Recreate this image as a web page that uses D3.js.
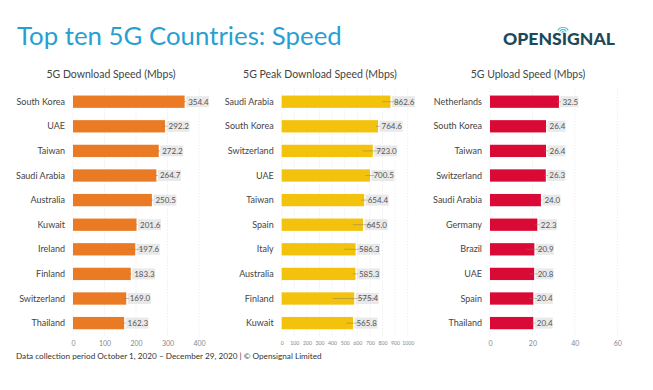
<!DOCTYPE html>
<html><head><meta charset="utf-8">
<script src="https://cdn.jsdelivr.net/npm/d3@7"></script>
<style>body{margin:0;background:#fff;}svg{display:block;font-family:Lato,"Open Sans",sans-serif;}</style>
</head><body>
<svg id="c" width="653" height="390"></svg>
<script>
// ---- data ----
const dlCountries = ["South Korea","UAE","Taiwan","Saudi Arabia","Australia","Kuwait","Ireland","Finland","Switzerland","Thailand"];
const dlValues = [354.4,292.2,272.2,264.7,250.5,201.6,197.6,183.3,169.0,162.3];
const dlErr = [4,8,4,5,5,3,25,3,10,5];
const dlTicks = [0,100,200,300,400];

const pkCountries = ["Saudi Arabia","South Korea","Switzerland","UAE","Taiwan","Spain","Italy","Australia","Finland","Kuwait"];
const pkValues = [862.6,764.6,723.0,700.5,654.4,645.0,586.3,585.3,575.4,565.8];
const pkErr = [65,15,80,35,25,80,90,20,170,55];
const pkTicks = [0,100,200,300,400,500,600,700,800,900,1000];

const ulCountries = ["Netherlands","South Korea","Taiwan","Switzerland","Saudi Arabia","Germany","Brazil","UAE","Spain","Thailand"];
const ulValues = [32.5,26.4,26.4,26.3,24.0,22.3,20.9,20.8,20.4,20.4];
const ulErr = [1,0.5,1,1,0.5,1,4,2,2,1];
const ulTicks = [0,20,40,60];

const svg = d3.select("#c");

// title
svg.append("text").attr("x",17).attr("y",45).attr("font-size",25.8).attr("fill","#279fd3").text("Top ten 5G Countries: Speed");

// logo
const logo = svg.append("g");
logo.append("text").attr("x",503).attr("y",45).attr("font-size",17.6).attr("font-weight",900)
  .attr("fill","#1b4a5a").attr("letter-spacing",0).attr("font-family","Lato, sans-serif").text("OPENSIGNAL");
// signal arcs above the I
[2.2,4.4,6.6].forEach((r,i)=>{
  logo.append("path").attr("d",d3.arc()({innerRadius:r-0.9,outerRadius:r,startAngle:-Math.PI/3,endAngle:Math.PI/3}))
    .attr("transform","translate(563,33.5)").attr("fill","#2fb3c9");
});

// footer
svg.append("text").attr("x",16).attr("y",359).attr("font-size",8.2).attr("fill","#333")
  .text("Data collection period October 1, 2020 \u2013 December 29, 2020 | \u00a9 Opensignal Limited");

function panel(o){
  const g = svg.append("g");
  const x = d3.scaleLinear().domain(o.domain).range([o.x0, o.x1]);
  const y = d3.scaleBand().domain(o.cats).range([89.4, 335.4]).paddingInner(0.5).paddingOuter(0.25);
  // title
  g.append("text").attr("x",o.tx).attr("y",78).attr("text-anchor","middle").attr("font-size",10.5).attr("fill","#444").text(o.title);
  // grid
  g.selectAll(".grid").data(o.ticks).join("line")
    .attr("x1",d=>x(d)).attr("x2",d=>x(d)).attr("y1",88).attr("y2",336)
    .attr("stroke","#e4e4e4").attr("stroke-width",0.6).attr("stroke-dasharray","1.5,1.5");
  // axis
  const ax = g.append("g").attr("transform","translate(0,336)")
    .call(d3.axisBottom(x).tickValues(o.ticks).tickSize(0).tickPadding(5).tickFormat(d3.format("d")));
  ax.select(".domain").remove();
  ax.selectAll("text").attr("font-size",o.tickFont).attr("fill","#888").attr("font-family","Lato, sans-serif");
  // category labels
  g.selectAll(".cat").data(o.cats).join("text")
    .attr("x",o.x0-8).attr("y",d=>y(d)+y.bandwidth()/2).attr("dy","0.35em").attr("text-anchor","end")
    .attr("font-size",9).attr("fill","#444").text(d=>d);
  // bars
  const data = o.cats.map((c,i)=>({c,v:o.vals[i],e:o.err[i]}));
  g.selectAll(".bar").data(data).join("rect")
    .attr("x",x(0)).attr("y",d=>y(d.c)).attr("width",d=>x(d.v)-x(0)).attr("height",y.bandwidth()).attr("fill",o.color);
  // label boxes
  const bw = o.boxW;
  g.selectAll(".box").data(data).join("rect")
    .attr("x",d=>x(d.v)+1.5).attr("y",d=>y(d.c)+y.bandwidth()/2-5.5).attr("width",bw).attr("height",11).attr("fill","#e9e9e9");
  // error bars
  g.selectAll(".err").data(data).join("line")
    .attr("x1",d=>x(d.v-d.e)).attr("x2",d=>x(d.v+d.e))
    .attr("y1",d=>y(d.c)+y.bandwidth()/2).attr("y2",d=>y(d.c)+y.bandwidth()/2)
    .attr("stroke","#8a7a66").attr("stroke-opacity",0.6).attr("stroke-width",0.8);
  g.selectAll(".val").data(data).join("text")
    .attr("x",d=>x(d.v)+3.5).attr("y",d=>y(d.c)+y.bandwidth()/2).attr("dy","0.35em")
    .attr("font-size",8).attr("fill","#555").text(d=>d.v.toFixed(1));
}

panel({cats:dlCountries,vals:dlValues,err:dlErr,ticks:dlTicks,domain:[0,400],x0:73,x1:199,
  title:"5G Download Speed (Mbps)",tx:111,color:"#ea7a23",tickFont:7,boxW:23});
panel({cats:pkCountries,vals:pkValues,err:pkErr,ticks:pkTicks,domain:[0,1000],x0:281.7,x1:407.7,
  title:"5G Peak Download Speed (Mbps)",tx:320,color:"#f3c20c",tickFont:5.2,boxW:23});
panel({cats:ulCountries,vals:ulValues,err:ulErr,ticks:ulTicks,domain:[0,60],x0:490,x1:617.3,
  title:"5G Upload Speed (Mbps)",tx:528,color:"#d90b36",tickFont:7,boxW:18});
</script>
</body></html>
